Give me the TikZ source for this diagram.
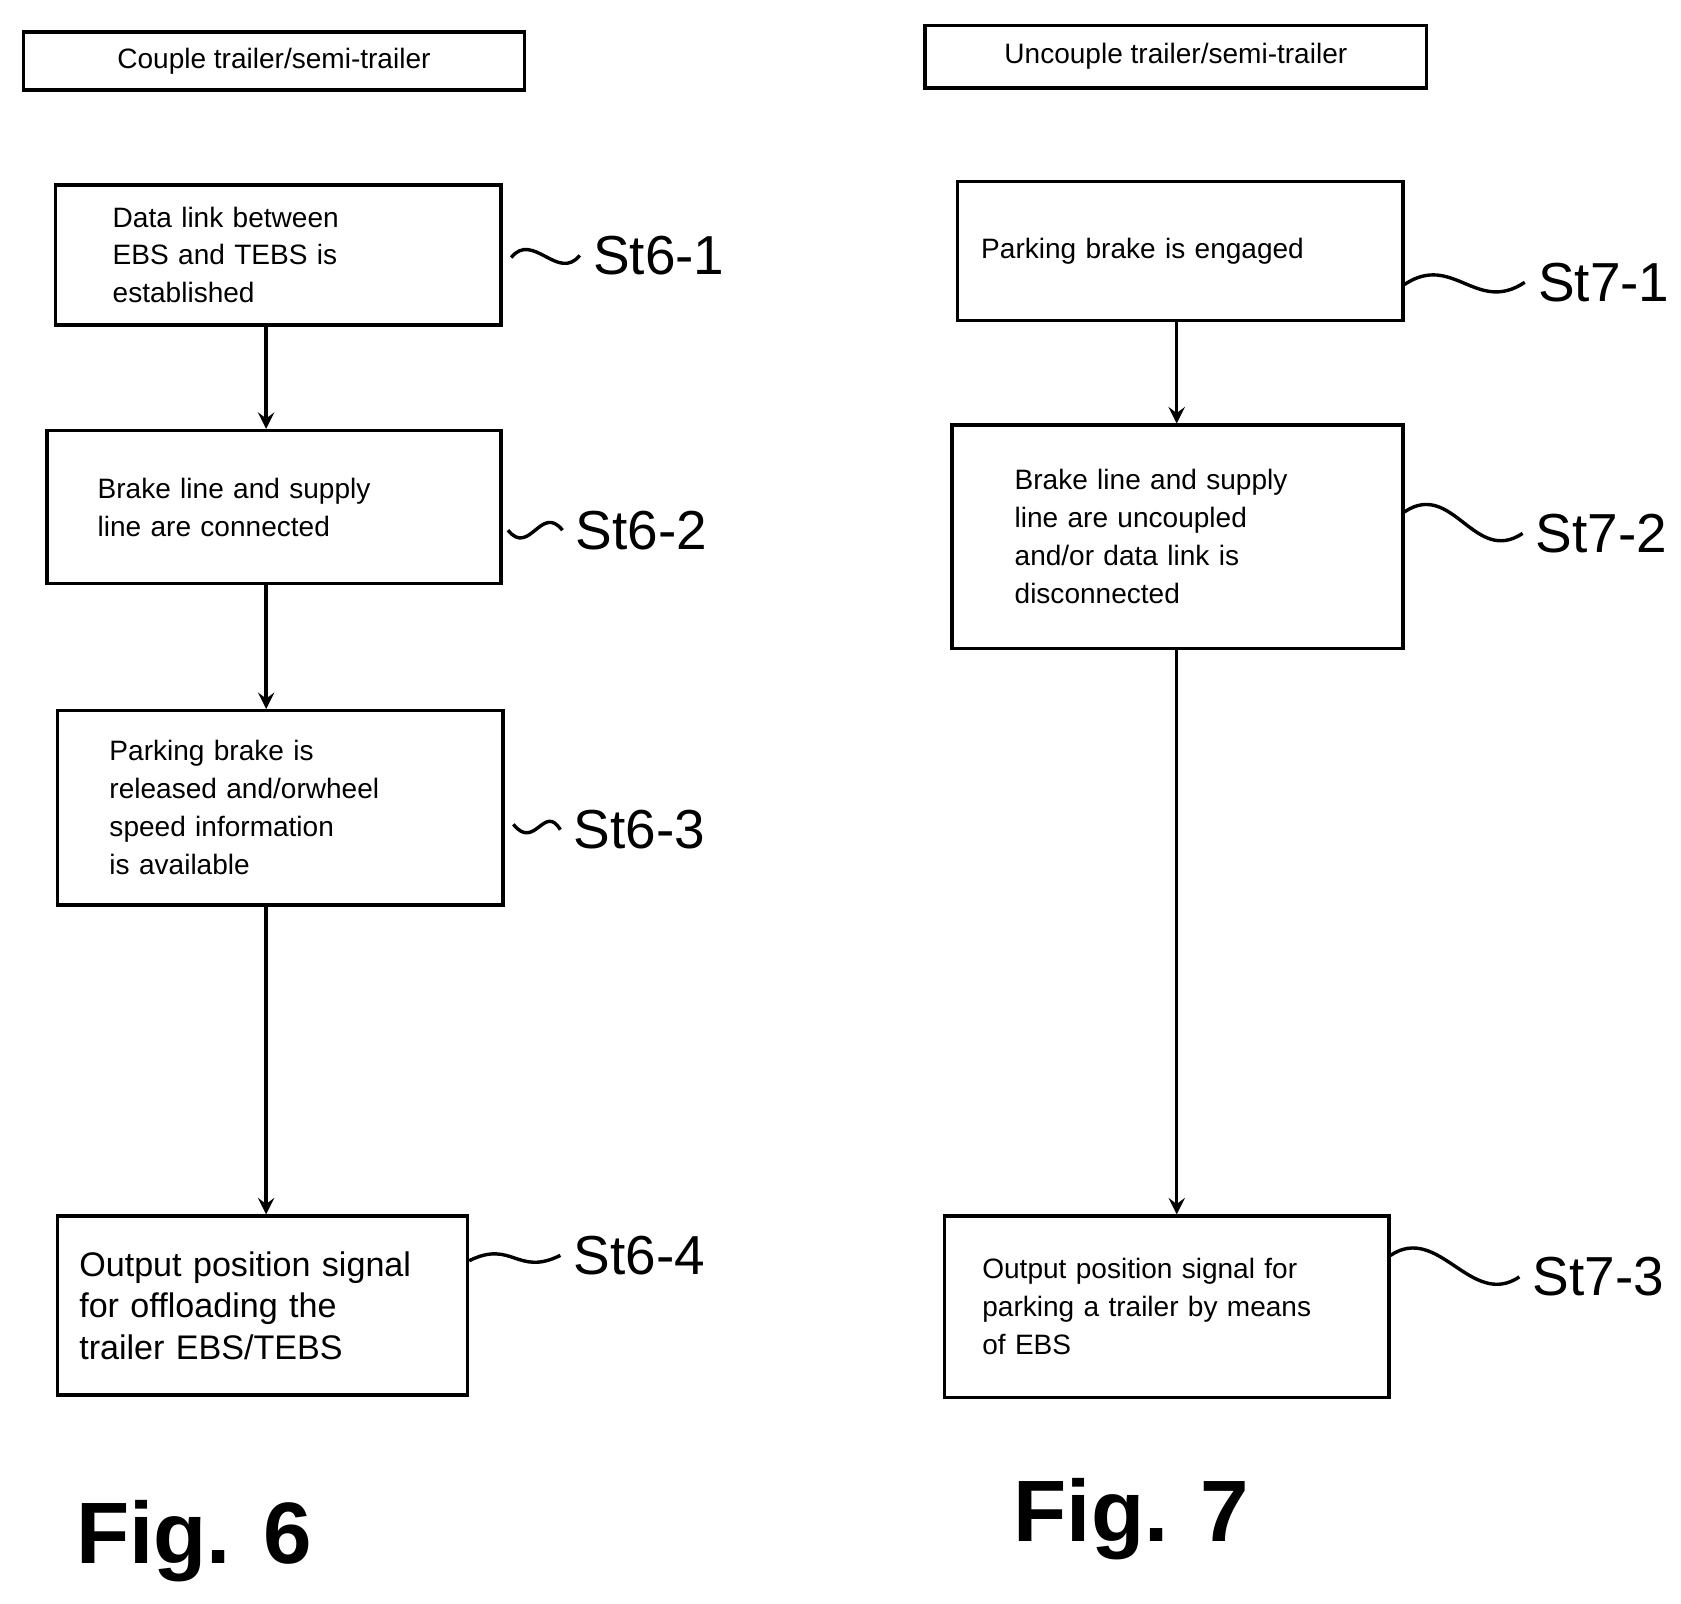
\documentclass[tikz,border=0pt]{standalone}
\usepackage{fontspec}
\setmainfont{Liberation Sans}
\begin{document}
\begin{tikzpicture}[x=0.01cm,y=-0.01cm,
    box/.style={draw,line width=0.9pt,anchor=north west,align=left,font=\fontsize{7.4}{10}\selectfont},
    title/.style={draw,line width=0.9pt,anchor=north west,align=center,font=\fontsize{7.4}{10}\selectfont},
    steplabel/.style={font=\fontsize{14.5}{17}\selectfont,anchor=west},
    fig/.style={font=\fontsize{23}{26}\selectfont\bfseries},
    flow/.style={-stealth,line width=0.9pt},
    wave/.style={line width=0.9pt}]
    \useasboundingbox (0,0) rectangle (1560,1488);

    \node[title,minimum width=4.65cm,minimum height=0.54cm] (t6) at (20,28) {Couple trailer/semi-trailer};
    \node[title,minimum width=4.65cm,minimum height=0.58cm] (t7) at (857,22) {Uncouple trailer/semi-trailer};

    \node[box,text width=3.07cm,inner xsep=0.53cm,minimum height=1.30cm] (a1) at (50,170) {Data link between\\EBS and TEBS is\\established};
    \node[box,text width=3.27cm,inner xsep=0.47cm,minimum height=1.42cm] (a2) at (42,398) {Brake line and supply\\line are connected};
    \node[box,text width=3.17cm,inner xsep=0.48cm,minimum height=1.80cm] (a3) at (52,658) {Parking brake is\\released and/orwheel\\speed information\\is available};
    \node[box,text width=3.40cm,inner xsep=0.20cm,minimum height=1.66cm,font=\fontsize{9}{11}\selectfont] (a4) at (52,1127) {Output position signal\\ for offloading the\\trailer EBS/TEBS};

    \node[box,text width=3.69cm,inner xsep=0.22cm,minimum height=1.29cm] (b1) at (887,167) {Parking brake is engaged\\[1.2em]};
    \node[box,text width=3.02cm,inner xsep=0.58cm,minimum height=2.07cm] (b2) at (882,393) {Brake line and supply\\line are uncoupled\\and/or data link is\\disconnected};
    \node[box,text width=3.42cm,inner xsep=0.35cm,minimum height=1.68cm] (b3) at (875,1127) {Output position signal for\\parking a trailer by means\\of EBS\\[0.5em]};

    \coordinate (c1) at (247,0);
    \coordinate (c2) at (1092,0);
    \draw[flow] (c1|-a1.south) -- (c1|-a2.north);
    \draw[flow] (c1|-a2.south) -- (c1|-a3.north);
    \draw[flow] (c1|-a3.south) -- (c1|-a4.north);
    \draw[flow] (c2|-b1.south) -- (c2|-b2.north);
    \draw[flow] (c2|-b2.south) -- (c2|-b3.north);

    \node[steplabel] (s61) at (538,237) {St6-1};
    \node[steplabel] (s62) at (522,492) {St6-2};
    \node[steplabel] (s63) at (520,770) {St6-3};
    \node[steplabel] (s64) at (520,1165) {St6-4};
    \node[steplabel] (s71) at (1415,262) {St7-1};
    \node[steplabel] (s72) at (1413,495) {St7-2};
    \node[steplabel] (s73) at (1410,1185) {St7-3};

    \draw[wave] (a1.east|-s61) ++(8,2) .. controls +(20,-25) and +(-20,25) .. (s61.west);
    \draw[wave] (a2.east|-s62) ++(5,0) .. controls +(20,25) and +(-20,-25) .. (s62.west);
    \draw[wave] (a3.east|-s63) ++(8,-5) .. controls +(20,25) and +(-15,-25) .. (s63.west);
    \draw[wave] (a4.east|-s64) ++(0,5) .. controls +(40,-20) and +(-40,20) .. (s64.west);
    \draw[wave] (b1.east|-s71) ++(0,2) .. controls +(45,-30) and +(-45,30) .. (s71.west);
    \draw[wave] (b2.east|-s72) ++(0,-20) .. controls +(45,-30) and +(-45,30) .. (s72.west);
    \draw[wave] (b3.east|-s73) ++(0,-20) .. controls +(45,-30) and +(-45,30) .. (s73.west);

    \node[fig] (f6) at (180,1430) {Fig. 6};
    \node[fig] (f7) at (1050,1410) {Fig. 7};
\end{tikzpicture}
\end{document}
